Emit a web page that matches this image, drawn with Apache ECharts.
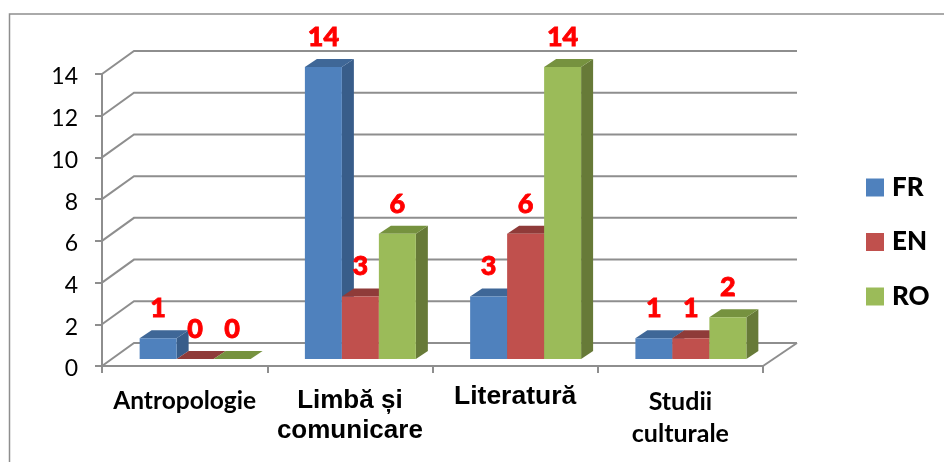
<!DOCTYPE html>
<html>
<head>
<meta charset="utf-8">
<style>
  html, body { margin: 0; padding: 0; background: #fff; }
  #chart { width: 944px; height: 462px; }
</style>
</head>
<body>
<div id="chart"></div>
<script src="https://cdn.jsdelivr.net/npm/echarts@6/dist/echarts.min.js"></script>
<script>
const categories = ['Antropologie', 'Limbă și\ncomunicare', 'Literatură', 'Studii\nculturale'];
const yTicks = [0, 2, 4, 6, 8, 10, 12, 14];
const fr = [1, 14, 3, 1];
const en = [0, 3, 6, 1];
const ro = [0, 6, 14, 2];

const GRAY = '#8e8e8e';
const WALL_DX = 32;
const WALL_DY = 23;
const BAR_DX = 12;
const BAR_DY = 8;
const BAR_SHIFT_X = 10.5;
const BAR_SHIFT_Y = 7;
const BAR_RATIO = 37 / 165.3;

const wallItem = (params, api) => {
  const v = api.value(1);
  const first = api.coord([0, v]);
  const last = api.coord([3, v]);
  const band = api.size([1, 0])[0];
  const left = first[0] - band / 2;
  const right = last[0] + band / 2;
  const y = first[1];
  const style = { stroke: GRAY, lineWidth: 2, fill: 'none' };
  const children = [{
    type: 'polyline',
    shape: { points: [[left, y], [left + WALL_DX, y - WALL_DY], [right + WALL_DX + 2, y - WALL_DY]] },
    style
  }];
  if (v === 0) {
    children.push({
      type: 'line',
      shape: { x1: right, y1: y, x2: right + WALL_DX + 2, y2: y - WALL_DY },
      style
    });
  }
  return { type: 'group', children };
};

const barItem = (slot, colors) => (params, api) => {
  const i = api.value(0);
  const v = api.value(1);
  const w = api.size([1, 0])[0] * BAR_RATIO;
  const top = api.coord([i, v]);
  const bottom = api.coord([i, 0]);
  const x = top[0] + BAR_SHIFT_X + (slot - 1.5) * w;
  const y = top[1] - BAR_SHIFT_Y;
  const y0 = bottom[1] - BAR_SHIFT_Y;
  return {
    type: 'group',
    children: [
      {
        type: 'polygon',
        shape: { points: [[x + w, y], [x + w + BAR_DX, y - BAR_DY], [x + w + BAR_DX, y0 - BAR_DY], [x + w, y0]] },
        style: { fill: colors.side }
      },
      {
        type: 'polygon',
        shape: { points: [[x, y], [x + BAR_DX, y - BAR_DY], [x + w + BAR_DX, y - BAR_DY], [x + w, y]] },
        style: { fill: colors.top }
      },
      {
        type: 'rect',
        shape: { x, y, width: w, height: y0 - y },
        style: { fill: colors.front }
      },
      {
        type: 'text',
        z2: 100,
        style: {
          text: String(v),
          x: x + w / 2,
          y: y - 30,
          align: 'center',
          verticalAlign: 'middle',
          fill: '#ff0000',
          stroke: '#ff0000',
          lineWidth: 0.8,
          font: '900 27px Lato'
        }
      }
    ]
  };
};

const barSeries = (name, values, slot, colors) => ({
  name,
  type: 'custom',
  z: 3,
  itemStyle: { color: colors.front },
  renderItem: barItem(slot, colors),
  data: values.map((v, i) => [i, v])
});

const option = {
  animation: false,
  backgroundColor: '#fff',
  graphic: [
    {
      type: 'polyline',
      silent: true,
      shape: { points: [[9.5, 462], [9.5, 14], [944, 14]] },
      style: { stroke: GRAY, lineWidth: 1.5, fill: 'none' }
    }
  ],
  grid: { left: 102, right: 181, top: 74, bottom: 96 },
  legend: {
    orient: 'vertical',
    left: 861,
    top: 166.5,
    itemWidth: 18,
    itemHeight: 18,
    itemGap: 22.5,
    icon: 'rect',
    selectedMode: false,
    data: ['FR', 'EN', 'RO'],
    textStyle: { color: '#000', fontFamily: 'Lato', fontWeight: 900, fontSize: 26, lineHeight: 32, padding: [0, 0, 0, 3] }
  },
  xAxis: {
    type: 'category',
    data: [
      { value: categories[0], textStyle: { fontFamily: 'Lato', fontWeight: 'bold', fontSize: 24.5, color: '#000', lineHeight: 30 } },
      { value: categories[1], textStyle: { fontFamily: 'Liberation Sans', fontWeight: 'bold', fontSize: 26, color: '#000', lineHeight: 30 } },
      { value: categories[2], textStyle: { fontFamily: 'Liberation Sans', fontWeight: 'bold', fontSize: 26.5, color: '#000', lineHeight: 22 } },
      { value: categories[3], textStyle: { fontFamily: 'Lato', fontWeight: 'bold', fontSize: 25, color: '#000', lineHeight: 32 } }
    ],
    axisLine: { lineStyle: { color: GRAY, width: 2 } },
    axisTick: { show: true, length: 7, lineStyle: { color: GRAY, width: 2 } },
    axisLabel: { margin: 20, interval: 0 },
    splitLine: { show: false }
  },
  yAxis: {
    type: 'value',
    min: 0,
    max: 14,
    interval: 2,
    axisLine: { show: true, lineStyle: { color: GRAY, width: 2 } },
    axisTick: { show: true, length: 7, lineStyle: { color: GRAY, width: 2 } },
    axisLabel: {
      margin: 24,
      formatter: '{t|{value}}',
      rich: { t: { color: '#000', fontFamily: 'Lato', fontSize: 23, padding: [6, 0, 0, 0] } }
    },
    splitLine: { show: false }
  },
  series: [
    {
      type: 'custom',
      z: 1,
      silent: true,
      renderItem: wallItem,
      data: yTicks.map((v) => [0, v])
    },
    barSeries('FR', fr, 0, { front: '#4f81bd', top: '#3f6797', side: '#385d8a' }),
    barSeries('EN', en, 1, { front: '#c0504d', top: '#8f3b39', side: '#8c3836' }),
    barSeries('RO', ro, 2, { front: '#9bbb59', top: '#76923f', side: '#677a38' })
  ]
};

const chart = echarts.init(document.getElementById('chart'));
chart.setOption(option);
</script>
</body>
</html>
